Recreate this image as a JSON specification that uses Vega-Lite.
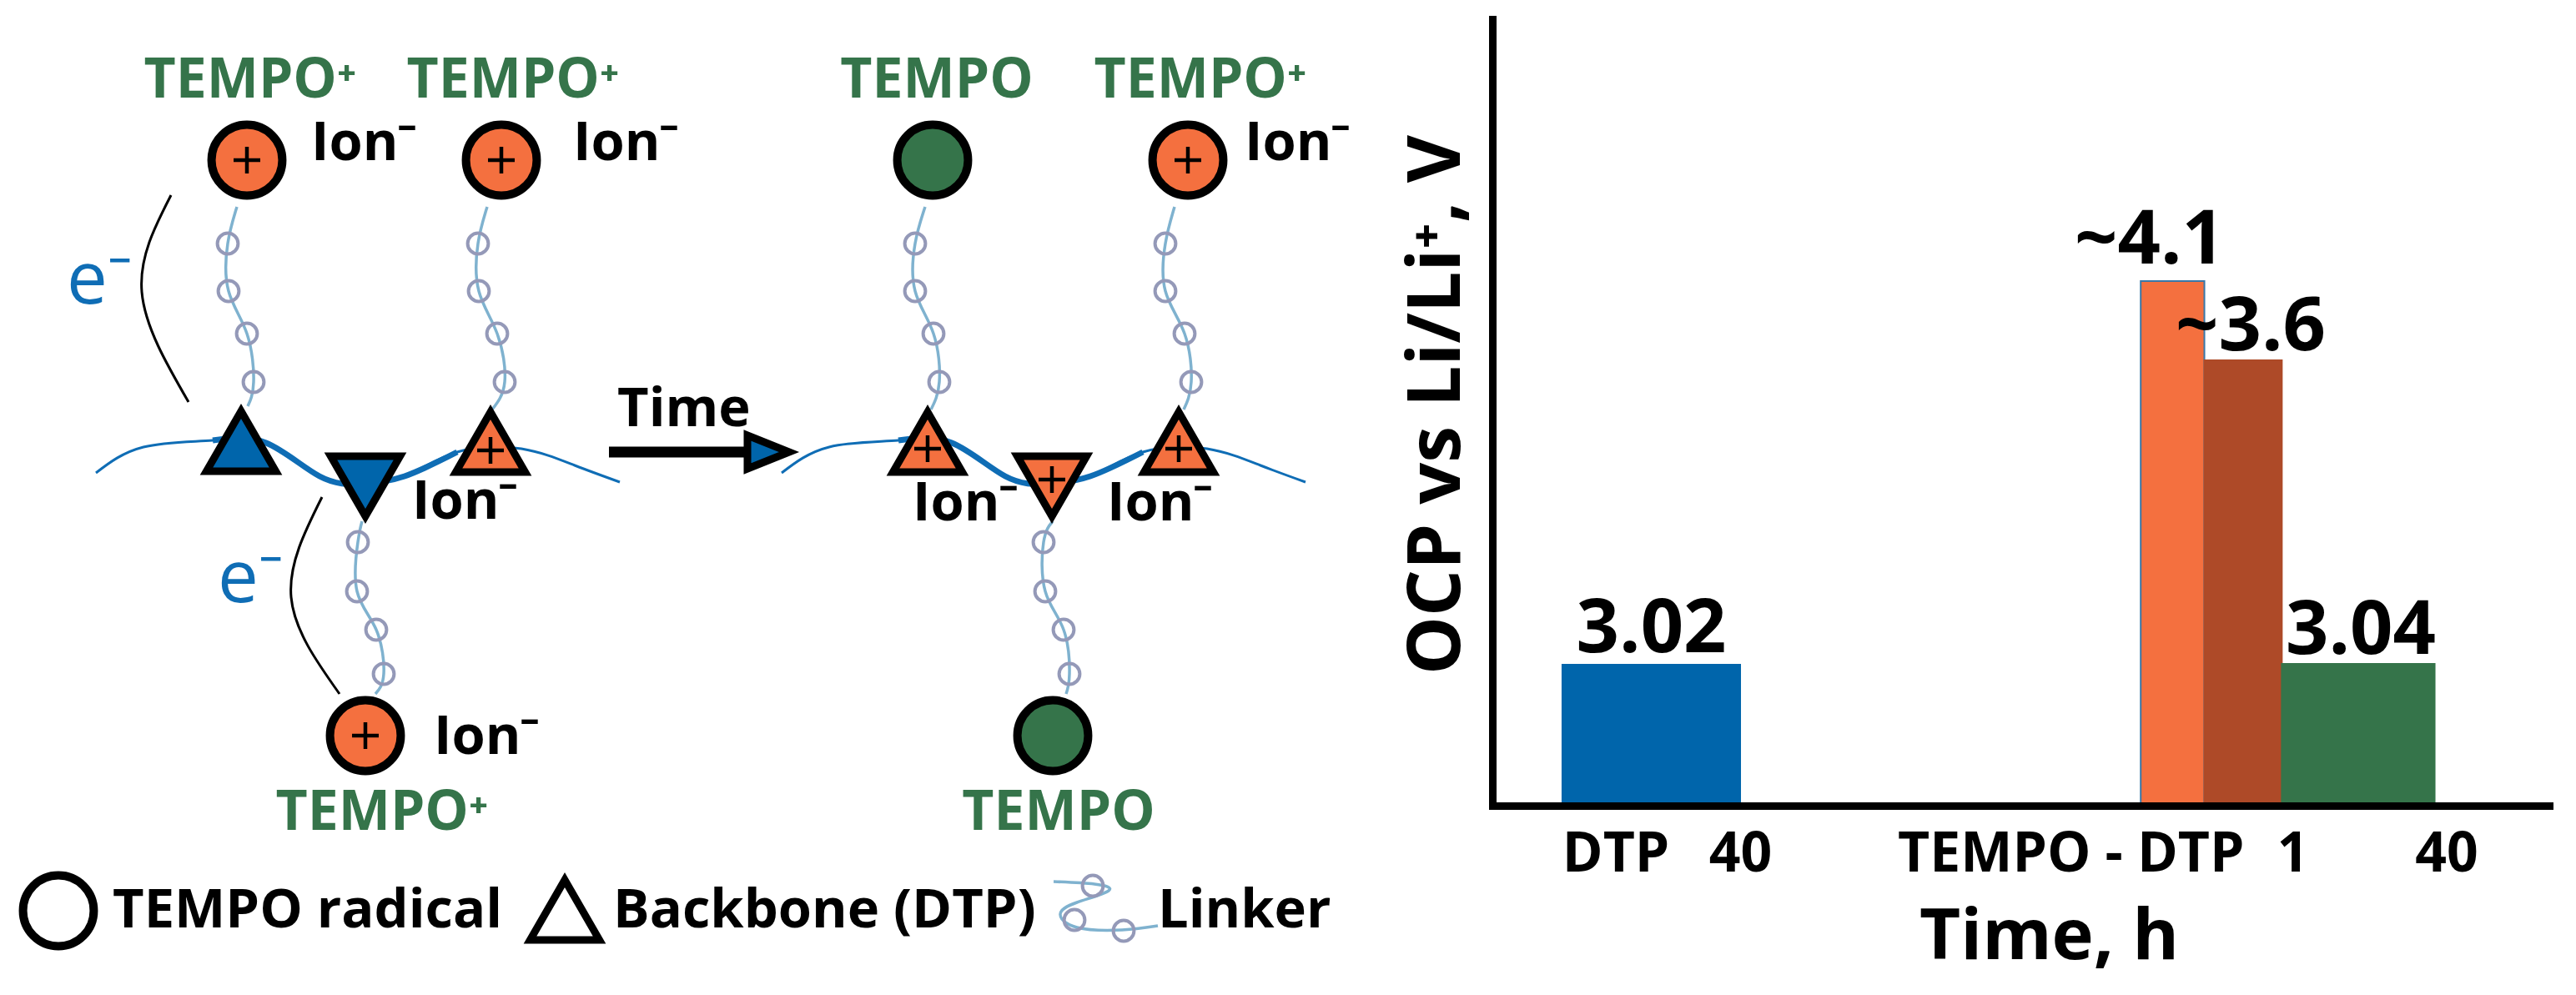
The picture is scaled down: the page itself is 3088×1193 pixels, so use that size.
{
  "$schema": "https://vega.github.io/schema/vega-lite/v6.json",
  "background": "white",
  "padding": {"left": 0, "top": 23, "right": 0, "bottom": 0},
  "spacing": 0,
  "config": {"view": {"stroke": null}, "font": "Open Sans"},
  "resolve": {"scale": {"fill": "independent", "stroke": "independent"}},
  "datasets": {
    "nodes": [
      {"x": 296, "y": 192, "state": "oxidized"},
      {"x": 601, "y": 192, "state": "oxidized"},
      {"x": 1118, "y": 192, "state": "radical"},
      {"x": 1424, "y": 192, "state": "oxidized"},
      {"x": 438, "y": 882, "state": "oxidized"},
      {"x": 1262, "y": 882, "state": "radical"},
      {"x": 70, "y": 1092, "state": "open"}
    ],
    "backbone": [
      {"x": 289, "y": 529, "dir": "up", "state": "neutral"},
      {"x": 438, "y": 583, "dir": "down", "state": "neutral"},
      {"x": 588, "y": 530, "dir": "up", "state": "oxidized"},
      {"x": 1112, "y": 530, "dir": "up", "state": "oxidized"},
      {"x": 1261, "y": 583, "dir": "down", "state": "oxidized"},
      {"x": 1413, "y": 530, "dir": "up", "state": "oxidized"},
      {"x": 677, "y": 1091, "dir": "up", "state": "open"}
    ],
    "plus": [
      {"x": 296, "y": 192}, {"x": 601, "y": 192}, {"x": 1424, "y": 192}, {"x": 438, "y": 882},
      {"x": 588, "y": 540}, {"x": 1112, "y": 538}, {"x": 1261, "y": 575}, {"x": 1413, "y": 538}
    ],
    "chains": [
      {"chain": "a", "i": 0, "x": 284, "y": 248}, {"chain": "a", "i": 1, "x": 273, "y": 292}, {"chain": "a", "i": 3, "x": 274, "y": 349}, {"chain": "a", "i": 4, "x": 296, "y": 400}, {"chain": "a", "i": 5, "x": 304, "y": 458}, {"chain": "a", "i": 6, "x": 297, "y": 487},
      {"chain": "b", "i": 0, "x": 584, "y": 248}, {"chain": "b", "i": 1, "x": 573, "y": 292}, {"chain": "b", "i": 3, "x": 574, "y": 349}, {"chain": "b", "i": 4, "x": 596, "y": 400}, {"chain": "b", "i": 5, "x": 605, "y": 458}, {"chain": "b", "i": 6, "x": 590, "y": 491},
      {"chain": "c", "i": 0, "x": 1109, "y": 248}, {"chain": "c", "i": 1, "x": 1097, "y": 292}, {"chain": "c", "i": 3, "x": 1097, "y": 349}, {"chain": "c", "i": 4, "x": 1119, "y": 400}, {"chain": "c", "i": 5, "x": 1126, "y": 458}, {"chain": "c", "i": 6, "x": 1116, "y": 491},
      {"chain": "d", "i": 0, "x": 1408, "y": 248}, {"chain": "d", "i": 1, "x": 1397, "y": 292}, {"chain": "d", "i": 3, "x": 1397, "y": 349}, {"chain": "d", "i": 4, "x": 1420, "y": 400}, {"chain": "d", "i": 5, "x": 1428, "y": 458}, {"chain": "d", "i": 6, "x": 1419, "y": 491},
      {"chain": "e", "i": 0, "x": 434, "y": 625}, {"chain": "e", "i": 1, "x": 429, "y": 650}, {"chain": "e", "i": 2, "x": 428, "y": 709}, {"chain": "e", "i": 3, "x": 451, "y": 755}, {"chain": "e", "i": 4, "x": 460, "y": 808}, {"chain": "e", "i": 5, "x": 450, "y": 832},
      {"chain": "f", "i": 0, "x": 1262, "y": 625}, {"chain": "f", "i": 1, "x": 1251, "y": 650}, {"chain": "f", "i": 2, "x": 1253, "y": 709}, {"chain": "f", "i": 3, "x": 1275, "y": 755}, {"chain": "f", "i": 4, "x": 1282, "y": 808}, {"chain": "f", "i": 5, "x": 1278, "y": 832},
      {"chain": "key", "i": 0, "x": 1263, "y": 1057}, {"chain": "key", "i": 1, "x": 1312, "y": 1060}, {"chain": "key", "i": 2, "x": 1329, "y": 1068}, {"chain": "key", "i": 3, "x": 1291, "y": 1082}, {"chain": "key", "i": 4, "x": 1271, "y": 1096}, {"chain": "key", "i": 5, "x": 1291, "y": 1112}, {"chain": "key", "i": 6, "x": 1345, "y": 1115}, {"chain": "key", "i": 7, "x": 1388, "y": 1110}
    ],
    "beads": [
      {"x": 273, "y": 292}, {"x": 274, "y": 349}, {"x": 296, "y": 400}, {"x": 304, "y": 458},
      {"x": 573, "y": 292}, {"x": 574, "y": 349}, {"x": 596, "y": 400}, {"x": 605, "y": 458},
      {"x": 1097, "y": 292}, {"x": 1097, "y": 349}, {"x": 1119, "y": 400}, {"x": 1126, "y": 458},
      {"x": 1397, "y": 292}, {"x": 1397, "y": 349}, {"x": 1420, "y": 400}, {"x": 1428, "y": 458},
      {"x": 429, "y": 650}, {"x": 428, "y": 709}, {"x": 451, "y": 755}, {"x": 460, "y": 808},
      {"x": 1251, "y": 650}, {"x": 1253, "y": 709}, {"x": 1275, "y": 755}, {"x": 1282, "y": 808},
      {"x": 1310, "y": 1062}, {"x": 1288, "y": 1103}, {"x": 1347, "y": 1116}
    ],
    "curves": [
      {"curve": "left", "part": "end", "i": 0, "x": 115, "y": 567}, {"curve": "left", "part": "end", "i": 1, "x": 172, "y": 536}, {"curve": "left", "part": "mid", "i": 2, "x": 255, "y": 528}, {"curve": "left", "part": "mid", "i": 3, "x": 319, "y": 531}, {"curve": "left", "part": "mid", "i": 4, "x": 383, "y": 571}, {"curve": "left", "part": "mid", "i": 5, "x": 434, "y": 580}, {"curve": "left", "part": "mid", "i": 6, "x": 485, "y": 571}, {"curve": "left", "part": "mid", "i": 7, "x": 548, "y": 542}, {"curve": "left", "part": "end", "i": 8, "x": 625, "y": 538}, {"curve": "left", "part": "end", "i": 9, "x": 689, "y": 558}, {"curve": "left", "part": "end", "i": 10, "x": 743, "y": 578},
      {"curve": "right", "part": "end", "i": 0, "x": 937, "y": 567}, {"curve": "right", "part": "end", "i": 1, "x": 994, "y": 536}, {"curve": "right", "part": "mid", "i": 2, "x": 1077, "y": 528}, {"curve": "right", "part": "mid", "i": 3, "x": 1141, "y": 531}, {"curve": "right", "part": "mid", "i": 4, "x": 1205, "y": 571}, {"curve": "right", "part": "mid", "i": 5, "x": 1256, "y": 580}, {"curve": "right", "part": "mid", "i": 6, "x": 1307, "y": 571}, {"curve": "right", "part": "mid", "i": 7, "x": 1370, "y": 542}, {"curve": "right", "part": "end", "i": 8, "x": 1447, "y": 538}, {"curve": "right", "part": "end", "i": 9, "x": 1511, "y": 558}, {"curve": "right", "part": "end", "i": 10, "x": 1565, "y": 578}
    ],
    "arcs": [
      {"arc": "top", "i": 0, "x": 205, "y": 234}, {"arc": "top", "i": 2, "x": 170, "y": 350}, {"arc": "top", "i": 4, "x": 226, "y": 482},
      {"arc": "bottom", "i": 0, "x": 386, "y": 596}, {"arc": "bottom", "i": 2, "x": 349, "y": 716}, {"arc": "bottom", "i": 4, "x": 407, "y": 832}
    ],
    "arrow": [{"x": 730, "y": 542, "x2": 895}],
    "arrowhead": [{"x": 921, "y": 542}],
    "labels": [
      {"role": "tempo", "label": "TEMPO⁺", "x": 300, "y": 117},
      {"role": "tempo", "label": "TEMPO⁺", "x": 615, "y": 117},
      {"role": "tempo", "label": "TEMPO", "x": 1123, "y": 117},
      {"role": "tempo", "label": "TEMPO⁺", "x": 1439, "y": 117},
      {"role": "tempo", "label": "TEMPO⁺", "x": 458, "y": 995},
      {"role": "tempo", "label": "TEMPO", "x": 1269, "y": 995},
      {"role": "ion", "label": "Ion⁻", "x": 373, "y": 192},
      {"role": "ion", "label": "Ion⁻", "x": 687, "y": 192},
      {"role": "ion", "label": "Ion⁻", "x": 1492, "y": 192},
      {"role": "ion", "label": "Ion⁻", "x": 494, "y": 622},
      {"role": "ion", "label": "Ion⁻", "x": 1094, "y": 624},
      {"role": "ion", "label": "Ion⁻", "x": 1327, "y": 624},
      {"role": "ion", "label": "Ion⁻", "x": 520, "y": 904},
      {"role": "ion", "label": "Time", "x": 740, "y": 511},
      {"role": "ion", "label": "TEMPO radical", "x": 135, "y": 1112},
      {"role": "ion", "label": "Backbone (DTP)", "x": 735, "y": 1112},
      {"role": "ion", "label": "Linker", "x": 1388, "y": 1112},
      {"role": "electron", "label": "e⁻", "x": 80, "y": 364},
      {"role": "electron", "label": "e⁻", "x": 261, "y": 722}
    ],
    "ocp": [
      {"sample": "DTP 40 h", "value": 3.02, "start": 6.6, "end": 23.35, "label": "3.02", "label_x": 14.98, "label_at": 3.062},
      {"sample": "TEMPO-DTP 0 h", "value": 4.1, "start": 61.1, "end": 67.1, "label": "~4.1", "label_x": 61.95, "label_at": 4.159},
      {"sample": "TEMPO-DTP 1 h", "value": 3.6, "start": 67.1, "end": 74.4, "label": "~3.6", "label_x": 71.46, "label_at": 3.663},
      {"sample": "TEMPO-DTP 40 h", "value": 3.04, "start": 74.4, "end": 88.8, "label": "3.04", "label_x": 81.84, "label_at": 3.058}
    ]
  },
  "hconcat": [
    {
      "width": 1679,
      "height": 1170,
      "encoding": {
        "x": {"field": "x", "type": "quantitative", "axis": null, "scale": {"domain": [0, 1679], "nice": false, "zero": false}},
        "y": {"field": "y", "type": "quantitative", "axis": null, "scale": {"domain": [23, 1193], "reverse": true, "nice": false, "zero": false}}
      },
      "layer": [
        {
          "data": {"name": "arcs"},
          "mark": {"type": "line", "color": "black", "strokeWidth": 3, "interpolate": "natural"},
          "encoding": {"detail": {"field": "arc"}, "order": {"field": "i"}}
        },
        {
          "data": {"name": "chains"},
          "mark": {"type": "line", "color": "#7fb2cf", "strokeWidth": 3.5, "interpolate": "natural"},
          "encoding": {"detail": {"field": "chain"}, "order": {"field": "i"}}
        },
        {
          "data": {"name": "beads"},
          "mark": {"type": "point", "shape": "circle", "size": 616, "filled": false, "stroke": "#9499b8", "strokeWidth": 4, "opacity": 1}
        },
        {
          "data": {"name": "curves"},
          "mark": {"type": "line", "color": "#0f6db5", "strokeWidth": 3, "interpolate": "natural"},
          "encoding": {"detail": {"field": "curve"}, "order": {"field": "i"}}
        },
        {
          "data": {"name": "curves"},
          "transform": [{"filter": "datum.part == 'mid'"}],
          "mark": {"type": "line", "color": "#0f6db5", "strokeWidth": 7, "interpolate": "natural"},
          "encoding": {"detail": {"field": "curve"}, "order": {"field": "i"}}
        },
        {
          "data": {"name": "nodes"},
          "mark": {"type": "point", "shape": "circle", "size": 7200, "filled": true, "stroke": "black", "strokeWidth": 10, "opacity": 1},
          "encoding": {
            "fill": {"field": "state", "legend": null, "scale": {"domain": ["oxidized", "radical", "neutral", "open"], "range": ["#f4703f", "#35744a", "#0065ab", "#ffffff"]}}
          }
        },
        {
          "data": {"name": "backbone"},
          "mark": {"type": "point", "size": 6900, "filled": true, "stroke": "black", "strokeWidth": 9, "opacity": 1},
          "encoding": {
            "shape": {"field": "dir", "legend": null, "scale": {"domain": ["up", "down"], "range": ["triangle-up", "triangle-down"]}},
            "fill": {"field": "state", "legend": null, "scale": {"domain": ["oxidized", "radical", "neutral", "open"], "range": ["#f4703f", "#35744a", "#0065ab", "#ffffff"]}}
          }
        },
        {
          "data": {"name": "plus"},
          "mark": {"type": "point", "shape": "M-1,0L1,0M0,-1L0,1", "size": 1024, "filled": false, "stroke": "black", "strokeWidth": 4.5, "opacity": 1}
        },
        {
          "data": {"name": "arrow"},
          "mark": {"type": "rule", "color": "black", "strokeWidth": 13},
          "encoding": {"x2": {"field": "x2"}}
        },
        {
          "data": {"name": "arrowhead"},
          "mark": {"type": "point", "shape": "M-1,-0.8L1,0L-1,0.8Z", "size": 2500, "filled": true, "fill": "#0065ab", "stroke": "black", "strokeWidth": 9, "opacity": 1}
        },
        {
          "data": {"name": "labels"},
          "transform": [{"filter": "datum.role == 'tempo'"}],
          "mark": {"type": "text", "font": "Open Sans", "fontWeight": "bold", "fontSize": 66, "align": "center", "baseline": "alphabetic", "color": "#35744a"},
          "encoding": {"text": {"field": "label"}}
        },
        {
          "data": {"name": "labels"},
          "transform": [{"filter": "datum.role == 'ion'"}],
          "mark": {"type": "text", "font": "Open Sans", "fontWeight": "bold", "fontSize": 65, "align": "left", "baseline": "alphabetic", "color": "black"},
          "encoding": {"text": {"field": "label"}}
        },
        {
          "data": {"name": "labels"},
          "transform": [{"filter": "datum.role == 'electron'"}],
          "mark": {"type": "text", "font": "Open Sans", "fontSize": 87, "align": "left", "baseline": "alphabetic", "color": "#0f6db5"},
          "encoding": {"text": {"field": "label"}}
        }
      ]
    },
    {
      "width": 1272,
      "height": 943,
      "data": {"name": "ocp"},
      "encoding": {
        "y": {
          "field": "value",
          "type": "quantitative",
          "scale": {"domain": [2.5, 3.02, 3.04, 3.6, 4.1, 5], "range": [943, 774, 773, 409, 314, 0], "nice": false, "zero": false},
          "axis": {"title": "OCP vs Li/Li⁺, V", "titleFont": "Open Sans", "titleFontWeight": "bold", "titleFontSize": 88, "titleColor": "black", "titleX": -40, "titleY": 462, "titleBaseline": "alphabetic", "labels": false, "ticks": false, "grid": false, "domainColor": "black", "domainWidth": 9, "domainCap": "square", "zindex": 1}
        }
      },
      "layer": [
        {
          "mark": {"type": "rect", "strokeWidth": 2},
          "encoding": {
            "x": {
              "field": "start",
              "type": "quantitative",
              "scale": {"domain": [0, 100], "nice": false, "zero": false},
              "axis": {
                "title": "Time, h",
                "values": [11.6, 23.35, 54.5, 75.4, 89.9],
                "labelExpr": "datum.value == 11.6 ? 'DTP' : datum.value == 54.5 ? 'TEMPO - DTP' : datum.value == 75.4 ? '1' : '40'",
                "labelFont": "Open Sans", "labelFontWeight": "bold", "labelFontSize": 66, "labelColor": "black", "labelPadding": 26, "labelLimit": 1000, "labelOverlap": false, "labelBound": false, "labelFlush": false, "labelAngle": 0,
                "ticks": false, "grid": false, "domainColor": "black", "domainWidth": 9, "domainCap": "square", "zindex": 1,
                "titleFont": "Open Sans", "titleFontWeight": "bold", "titleFontSize": 85, "titleColor": "black", "titleX": 667, "titleY": 183, "titleBaseline": "alphabetic"
              }
            },
            "x2": {"field": "end"},
            "y2": {"datum": 2.5},
            "fill": {"field": "sample", "legend": null, "scale": {"domain": ["DTP 40 h", "TEMPO-DTP 0 h", "TEMPO-DTP 1 h", "TEMPO-DTP 40 h"], "range": ["#0065ab", "#f4703f", "#ae4a28", "#35744a"]}},
            "stroke": {"field": "sample", "legend": null, "scale": {"domain": ["DTP 40 h", "TEMPO-DTP 0 h", "TEMPO-DTP 1 h", "TEMPO-DTP 40 h"], "range": ["#0065ab", "#3a78a8", "#ae4a28", "#35744a"]}}
          }
        },
        {
          "mark": {"type": "text", "font": "Open Sans", "fontWeight": "bold", "fontSize": 90, "align": "center", "baseline": "alphabetic", "color": "black"},
          "encoding": {
            "x": {"field": "label_x", "type": "quantitative"},
            "y": {"field": "label_at", "type": "quantitative"},
            "text": {"field": "label"}
          }
        }
      ]
    }
  ]
}
